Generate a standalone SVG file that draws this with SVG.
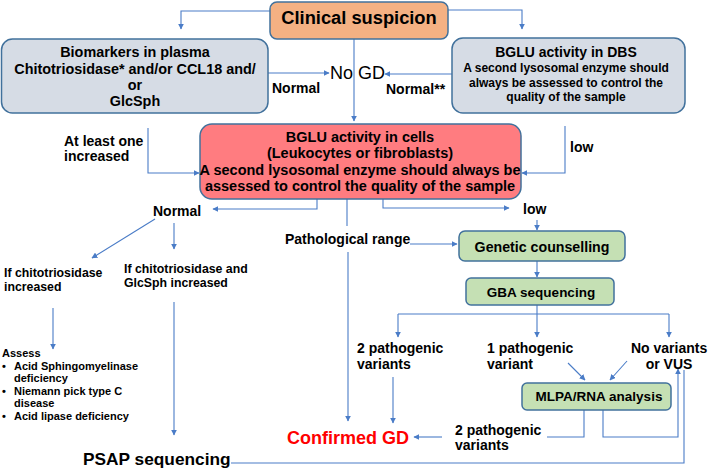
<svg xmlns="http://www.w3.org/2000/svg" width="708" height="469" viewBox="0 0 708 469">
<defs>
<marker id="ah" viewBox="0 0 10 10" refX="9" refY="5" markerWidth="6" markerHeight="6" markerUnits="userSpaceOnUse" orient="auto">
<path d="M0,0 L10,5 L0,10 z" fill="#4A7CC7"/>
</marker>
<style>
text{font-family:"Liberation Sans",Arial,sans-serif;font-weight:bold;fill:#000}
.box{stroke:#41719C;stroke-width:1.5}
.c{text-anchor:middle}
.bt{font-size:14.4px}
.lb{font-size:14px}
.sm{font-size:12.3px}
.xs{font-size:11px}
#connectors path{fill:none;stroke:#4A7CC7;stroke-width:1.1}
.a{marker-end:url(#ah)}
</style>
</defs>
<rect width="708" height="469" fill="#fff"/>

<g id="connectors">
<path class="a" d="M270,11 H181 V29"/>
<path class="a" d="M448,10 H522 V29"/>
<path class="a" d="M354,39 V121"/>
<path class="a" d="M268,73 H329"/>
<path class="a" d="M452,74 H385"/>
<path class="a" d="M148,128 V173 H199"/>
<path class="a" d="M565,126 V173 H522"/>
<path class="a" d="M317,199 V209 H213"/>
<path d="M347,199 V226"/>
<path class="a" d="M348,252 V421"/>
<path class="a" d="M383,199 V208 H509"/>
<path class="a" d="M537,220 V230"/>
<path class="a" d="M410,244 H457"/>
<path class="a" d="M537,261 V277"/>
<path d="M537,305 V314"/>
<path class="a" d="M398,314 V337"/>
<path d="M398,314 H669"/>
<path class="a" d="M537,314 V337"/>
<path class="a" d="M669,314 V337"/>
<path class="a" d="M155,219 L92,258"/>
<path class="a" d="M174,223 V249"/>
<path class="a" d="M53,308 V349"/>
<path class="a" d="M174,302 V435"/>
<path class="a" d="M393,377 V423"/>
<path class="a" d="M568,363 L585,380"/>
<path class="a" d="M627,361 L610,380"/>
<path d="M584,410 V437 H547"/>
<path class="a" d="M603,410 V437 H678 V369"/>
<path class="a" d="M442,437 H414"/>
<path d="M684,370 V463 H231"/>
</g>

<g id="clinical">
<rect class="box" x="270" y="2" width="178" height="37" rx="7" fill="#F4B183"/>
<text class="c" x="359" y="24" font-size="18.3">Clinical suspicion</text>
</g>

<g id="biomarkers">
<rect class="box" x="1.5" y="39" width="266.5" height="74" rx="11" fill="#D6DCE5"/>
<text class="c bt" x="135" y="57">Biomarkers in plasma</text>
<text class="c bt" x="135" y="74">Chitotriosidase* and/or CCL18 and/</text>
<text class="c bt" x="135" y="90">or</text>
<text class="c bt" x="135" y="106">GlcSph</text>
</g>

<g id="dbs">
<rect class="box" x="452" y="38" width="233" height="75" rx="11" fill="#D6DCE5"/>
<text class="c" x="566" y="57" font-size="14">BGLU activity in DBS</text>
<text class="c" x="566" y="72" font-size="12">A second lysosomal enzyme should</text>
<text class="c" x="566" y="86.5" font-size="12">always be assessed to control the</text>
<text class="c" x="566" y="101" font-size="12">quality of the sample</text>
</g>

<g id="nogd">
<text x="330" y="79" font-size="18" style="font-weight:normal">No GD</text>
</g>

<g id="cells">
<rect class="box" x="200" y="124" width="321" height="75" rx="12" fill="#FF7C80"/>
<text class="c" x="360" y="142" font-size="14.5">BGLU activity in cells</text>
<text class="c" x="360" y="158" font-size="14.5">(Leukocytes or fibroblasts)</text>
<text class="c" x="360" y="175" font-size="14.5">A second lysosomal enzyme should always be</text>
<text class="c" x="360" y="191" font-size="14.5">assessed to control the quality of the sample</text>
</g>

<g id="labels">
<text class="lb" x="272" y="93">Normal</text>
<text class="lb" x="386" y="94">Normal**</text>
<text class="lb" x="64" y="146">At least one</text>
<text class="lb" x="64" y="161">increased</text>
<text class="lb" x="570" y="152">low</text>
<text class="lb" x="153" y="216">Normal</text>
<text class="lb" x="523" y="214">low</text>
<text class="lb" x="285" y="244" font-size="13.7">Pathological range</text>
<text class="sm" x="4" y="277">If chitotriosidase</text>
<text class="sm" x="4" y="291">increased</text>
<text class="sm" x="124" y="273">If chitotriosidase and</text>
<text class="sm" x="124" y="287">GlcSph increased</text>
<text class="lb" x="357" y="353">2 pathogenic</text>
<text class="lb" x="357" y="369">variants</text>
<text class="lb" x="487" y="353">1 pathogenic</text>
<text class="lb" x="487" y="369">variant</text>
<text class="lb" x="631" y="353">No variants</text>
<text class="lb c" x="669" y="369">or VUS</text>
<text class="lb" x="455" y="435">2 pathogenic</text>
<text class="lb" x="455" y="450">variants</text>
</g>

<g id="assess">
<text class="xs" x="2" y="357" font-size="11.5">Assess</text>
<text class="xs" x="2" y="370">•</text>
<text class="xs" x="14" y="370">Acid Sphingomyelinase</text>
<text class="xs" x="14" y="382">deficiency</text>
<text class="xs" x="2" y="395">•</text>
<text class="xs" x="14" y="395">Niemann pick type C</text>
<text class="xs" x="14" y="407">disease</text>
<text class="xs" x="2" y="420">•</text>
<text class="xs" x="14" y="420">Acid lipase deficiency</text>
</g>

<g id="genetic">
<rect class="box" x="459" y="231" width="166" height="30" rx="6" fill="#C5E0B4"/>
<text class="c" x="542" y="252" font-size="14.2">Genetic counselling</text>
</g>

<g id="gba">
<rect class="box" x="466" y="278" width="148" height="27" rx="5" fill="#C5E0B4"/>
<text class="c" x="541" y="297" font-size="13.5">GBA sequencing</text>
</g>

<g id="mlpa">
<rect class="box" x="522" y="383" width="149" height="27" rx="5" fill="#C5E0B4"/>
<text class="c" x="599" y="401" font-size="13.5">MLPA/RNA analysis</text>
</g>

<g id="confirmed">
<text x="287" y="444" font-size="18" style="fill:#FF0000">Confirmed GD</text>
</g>

<g id="psap">
<text x="83" y="465" font-size="17.3">PSAP sequencing</text>
</g>
</svg>
